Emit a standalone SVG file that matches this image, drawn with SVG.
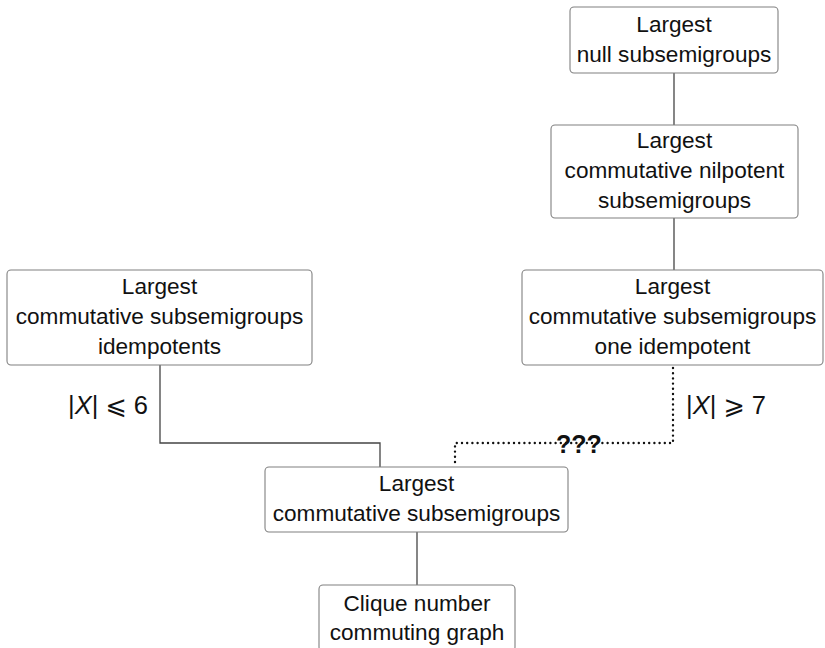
<svg xmlns="http://www.w3.org/2000/svg" width="825" height="648" viewBox="0 0 825 648">
  <style>
    .box { fill: #ffffff; stroke: #808080; stroke-width: 1.1; }
    .lbl { font-family: "Liberation Sans", "DejaVu Sans", sans-serif; font-size: 22.6px; fill: #111; text-anchor: middle; }
    .math { font-family: "Liberation Sans", "DejaVu Sans", sans-serif; font-size: 25.5px; fill: #111; }
    .q { font-family: "Liberation Sans", "DejaVu Sans", sans-serif; font-size: 25px; font-weight: bold; fill: #111; text-anchor: middle; }
    .solid { fill: none; stroke: #444; stroke-width: 1.3; }
    .dotted { fill: none; stroke: #111; stroke-width: 2.4; stroke-linecap: round; stroke-dasharray: 0 5.2; }
  </style>

  <rect width="825" height="648" fill="#ffffff"/>

  <!-- connectors -->
  <g id="connectors">
    <path class="solid" d="M674 73 V125"/>
    <path class="solid" d="M674 218 V270"/>
    <path class="solid" d="M160 365 V443 H380 V467"/>
    <path class="solid" d="M417 532 V585"/>
    <path class="dotted" d="M673 368 V443 H455 V465"/>
    <text class="q" x="579" y="453">???</text>
    <text class="math" x="148" y="414" text-anchor="end">|<tspan font-style="italic">X</tspan>| ⩽ 6</text>
    <text class="math" x="686" y="414">|<tspan font-style="italic">X</tspan>| ⩾ 7</text>
  </g>

  <!-- nodes -->
  <g id="null">
    <rect class="box" x="570" y="7" width="208" height="66" rx="4"/>
    <text class="lbl" x="674" y="32">Largest</text>
    <text class="lbl" x="674" y="62">null subsemigroups</text>
  </g>

  <g id="nilpotent">
    <rect class="box" x="551" y="125" width="247" height="93" rx="4"/>
    <text class="lbl" x="674.5" y="148">Largest</text>
    <text class="lbl" x="674.5" y="178">commutative nilpotent</text>
    <text class="lbl" x="674.5" y="208">subsemigroups</text>
  </g>

  <g id="one-idempotent">
    <rect class="box" x="522" y="270" width="301" height="95" rx="4"/>
    <text class="lbl" x="672.5" y="294">Largest</text>
    <text class="lbl" x="672.5" y="324">commutative subsemigroups</text>
    <text class="lbl" x="672.5" y="354">one idempotent</text>
  </g>

  <g id="idempotents">
    <rect class="box" x="7" y="270" width="305" height="95" rx="4"/>
    <text class="lbl" x="159.5" y="294">Largest</text>
    <text class="lbl" x="159.5" y="324">commutative subsemigroups</text>
    <text class="lbl" x="159.5" y="354">idempotents</text>
  </g>

  <g id="commutative">
    <rect class="box" x="265" y="467" width="303" height="65" rx="4"/>
    <text class="lbl" x="416.5" y="491">Largest</text>
    <text class="lbl" x="416.5" y="521">commutative subsemigroups</text>
  </g>

  <g id="clique">
    <rect class="box" x="319" y="585" width="196" height="66" rx="4"/>
    <text class="lbl" x="417" y="611">Clique number</text>
    <text class="lbl" x="417" y="640">commuting graph</text>
  </g>
</svg>
